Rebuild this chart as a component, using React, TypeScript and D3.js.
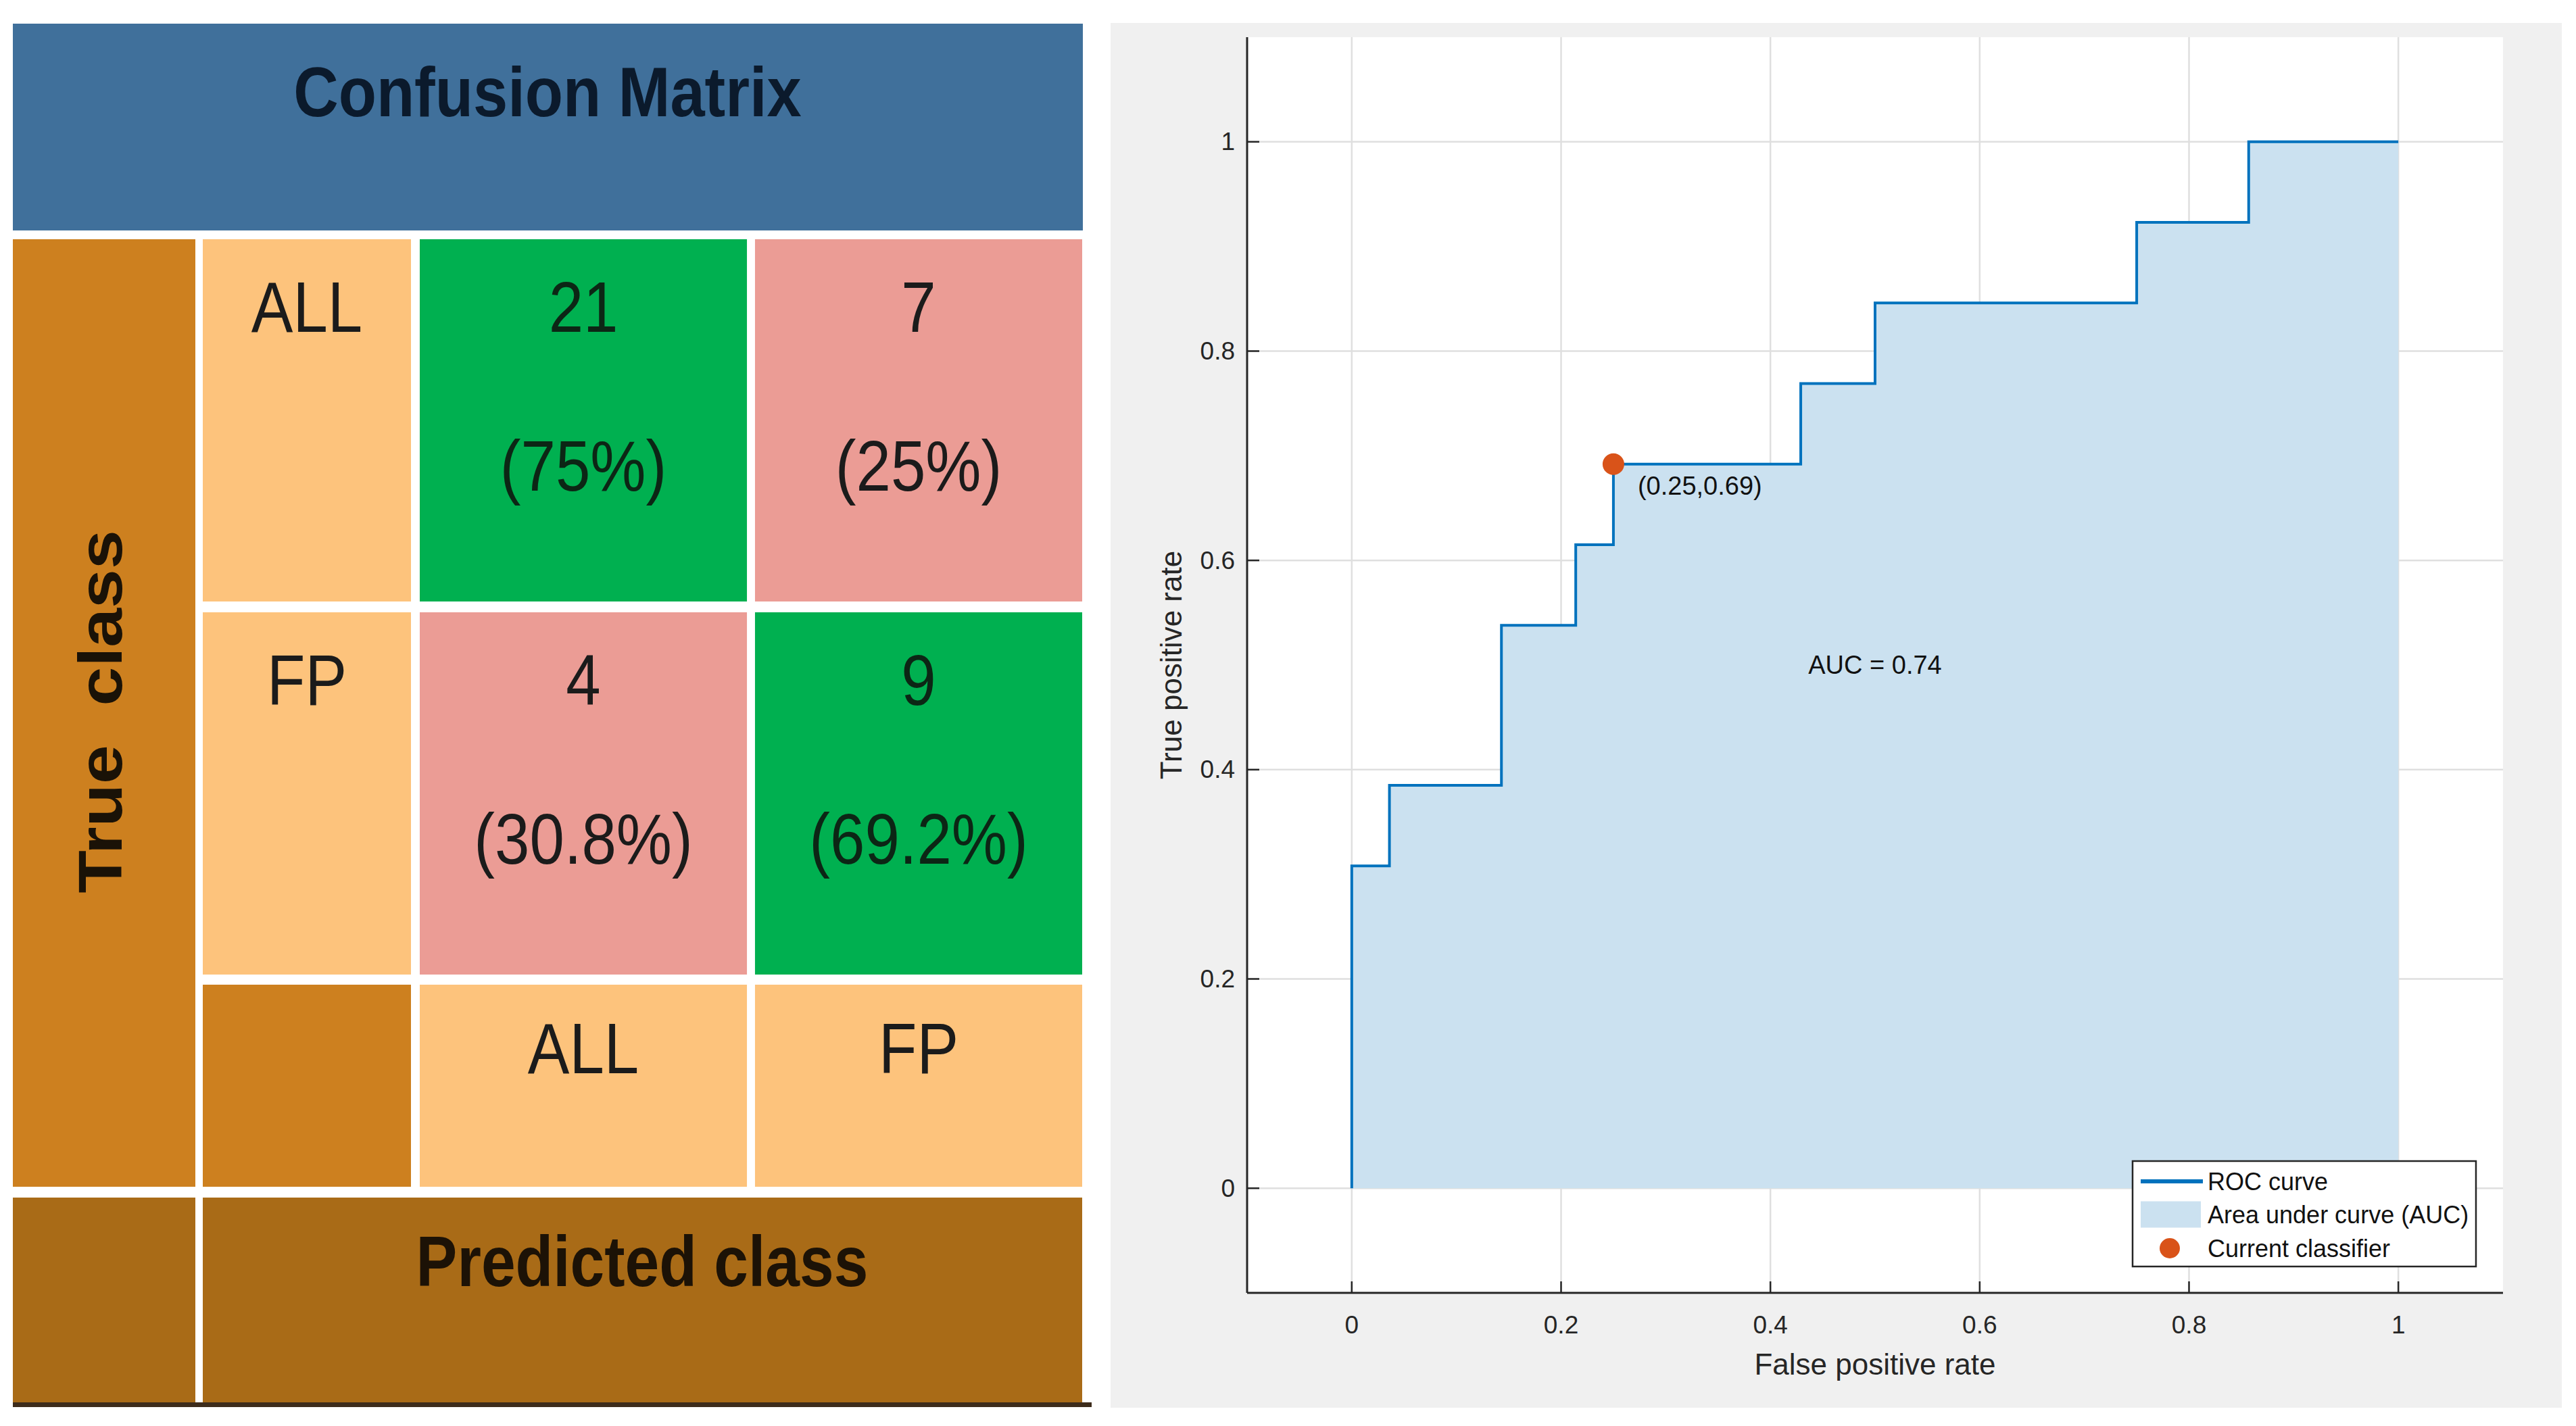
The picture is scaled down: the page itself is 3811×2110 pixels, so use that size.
import React, { useEffect } from "react";
import * as d3 from "d3";

// confusion matrix
const trueLabels = ["ALL", "FP"];
const predLabels = ["ALL", "FP"];
const counts = [
  [21, 7],
  [4, 9],
];
const rowPercents = [
  [75, 25],
  [30.8, 69.2],
];

// ROC curve (step points)
const fpr = [0, 0, 0.036, 0.143, 0.214, 0.25, 0.429, 0.5, 0.75, 0.857, 1];
const tpr = [0, 0.308, 0.385, 0.538, 0.615, 0.692, 0.769, 0.846, 0.923, 1, 1];
const currentClassifier = [0.25, 0.692];
const currentLabel = "(0.25,0.69)";
const aucValue = 0.74;
const rocTicks = [0, 0.2, 0.4, 0.6, 0.8, 1];
const legendLabels = ["ROC curve", "Area under curve (AUC)", "Current classifier"];

const W = 3811;
const H = 2110;
const FONT = "'Liberation Sans', Arial, Helvetica, sans-serif";

const C = {
  header: "#40709B",
  side: "#CD801F",
  label: "#FDC37C",
  green: "#00B050",
  pink: "#EB9C95",
  bottom: "#A96B17",
  text: "#1b1b1b",
  blue: "#0072BD",
  fill: "#CBE1F0",
  orange: "#D95319",
  axis: "#262626",
  grid: "#DFDFDF",
};

function ConfusionMatrix() {
  const cols = d3.scaleBand().domain(predLabels).range([621, 1601]).paddingInner(0.024);
  const rows = d3.scaleBand().domain(trueLabels).range([354, 1442]).paddingInner(0.029);
  const sx = 0.88;
  const fs = 105;
  const pct = (v: number) => `(${v}%)`;

  const cellText = (cx: number, baseline: number, t: string, key: string, fill = C.text) => (
    <text
      key={key}
      transform={`translate(${cx},${baseline}) scale(${sx},1)`}
      textAnchor="middle"
      fontSize={fs}
      fontFamily={FONT}
      fill={fill}
    >
      {t}
    </text>
  );

  return (
    <g>
      {/* header */}
      <rect x={19} y={35} width={1583} height={306} fill={C.header} />
      <text
        transform={`translate(810,172) scale(0.885,1)`}
        textAnchor="middle"
        fontSize={104}
        fontWeight="bold"
        fontFamily={FONT}
        fill="#0B1A2C"
      >
        Confusion Matrix
      </text>

      {/* true class column */}
      <rect x={19} y={354} width={270} height={1402} fill={C.side} />
      <text
        transform={`translate(180,1053) scale(0.88,1) rotate(-90)`}
        textAnchor="middle"
        fontSize={104}
        fontWeight="bold"
        fontFamily={FONT}
        fill="#1a1207"
        style={{ whiteSpace: "pre" }}
      >
        {"True  class"}
      </text>

      {/* row labels */}
      {trueLabels.map((r) => (
        <g key={r}>
          <rect x={300} y={rows(r)} width={308} height={rows.bandwidth()} fill={C.label} />
          {cellText(454, rows(r)! + 137, r, "rl" + r)}
        </g>
      ))}

      {/* cells */}
      {trueLabels.map((r, i) =>
        predLabels.map((c, j) => {
          const x0 = cols(c)!;
          const y0 = rows(r)!;
          const cx = x0 + cols.bandwidth() / 2;
          const diag = i === j;
          const tc = diag ? "#0c2615" : C.text;
          return (
            <g key={r + c}>
              <rect x={x0} y={y0} width={cols.bandwidth()} height={rows.bandwidth()} fill={diag ? C.green : C.pink} />
              {cellText(cx, y0 + 137, String(counts[i][j]), "n", tc)}
              {cellText(cx, y0 + 372, pct(rowPercents[i][j]), "p", tc)}
            </g>
          );
        })
      )}

      {/* predicted labels row */}
      <rect x={300} y={1457} width={308} height={299} fill={C.side} />
      {predLabels.map((c) => (
        <g key={"pl" + c}>
          <rect x={cols(c)} y={1457} width={cols.bandwidth()} height={299} fill={C.label} />
          {cellText(cols(c)! + cols.bandwidth() / 2, 1588, c, "t")}
        </g>
      ))}

      {/* predicted class band */}
      <rect x={19} y={1772} width={270} height={303} fill={C.bottom} />
      <rect x={300} y={1772} width={1301} height={303} fill={C.bottom} />
      <text
        transform={`translate(950,1903) scale(0.86,1)`}
        textAnchor="middle"
        fontSize={106}
        fontWeight="bold"
        fontFamily={FONT}
        fill="#1c1206"
      >
        Predicted class
      </text>
      <rect x={19} y={2075} width={1596} height={7} fill="#3d2c1c" />
    </g>
  );
}

function RocPlot() {
  const x = d3.scaleLinear().domain([-0.1, 1.1]).range([1845, 3703]);
  const y = d3.scaleLinear().domain([-0.1, 1.1]).range([1913, 55]);
  const pts: [number, number][] = fpr.map((f, i) => [f, tpr[i]]);

  const area = d3
    .area<[number, number]>()
    .x((d) => x(d[0]))
    .y0(y(0))
    .y1((d) => y(d[1]))
    .curve(d3.curveStepAfter);
  const line = d3
    .line<[number, number]>()
    .x((d) => x(d[0]))
    .y((d) => y(d[1]))
    .curve(d3.curveStepAfter);

  const [x0, x1] = x.range();
  const [yb, yt] = y.range();
  const fmt = d3.format("~g");
  const cx = x(currentClassifier[0]);
  const cy = y(currentClassifier[1]);

  return (
    <g fontFamily={FONT}>
      <rect x={1643} y={34} width={2147} height={2049} fill="#F0F0F0" />
      <rect x={x0} y={yt} width={x1 - x0} height={yb - yt} fill="#fff" />

      {rocTicks.map((t) => (
        <g key={"g" + t}>
          <line x1={x(t)} x2={x(t)} y1={yt} y2={yb} stroke={C.grid} strokeWidth={2.5} />
          <line x1={x0} x2={x1} y1={y(t)} y2={y(t)} stroke={C.grid} strokeWidth={2.5} />
        </g>
      ))}

      <path d={area(pts)!} fill={C.fill} />
      <path d={line(pts)!} fill="none" stroke={C.blue} strokeWidth={4} />

      {/* axes */}
      <line x1={x0} x2={x0} y1={yt} y2={yb} stroke={C.axis} strokeWidth={3} />
      <line x1={x0} x2={x1} y1={yb} y2={yb} stroke={C.axis} strokeWidth={3} />
      {rocTicks.map((t) => (
        <g key={"t" + t} fill={C.axis}>
          <line x1={x(t)} x2={x(t)} y1={yb} y2={yb - 17} stroke={C.axis} strokeWidth={2.5} />
          <line x1={x0} x2={x0 + 18} y1={y(t)} y2={y(t)} stroke={C.axis} strokeWidth={2.5} />
          <text x={x(t)} y={1973} textAnchor="middle" fontSize={37}>
            {fmt(t)}
          </text>
          <text x={1827} y={y(t)} textAnchor="end" dominantBaseline="central" fontSize={37}>
            {fmt(t)}
          </text>
        </g>
      ))}

      <text x={(x0 + x1) / 2} y={2034} textAnchor="middle" fontSize={44} fill={C.axis}>
        False positive rate
      </text>
      <text
        transform={`translate(1748,${(yt + yb) / 2}) rotate(-90)`}
        textAnchor="middle"
        fontSize={44}
        fill={C.axis}
      >
        True positive rate
      </text>

      {/* current classifier */}
      <circle cx={cx} cy={cy} r={16} fill={C.orange} />
      <text x={cx + 36} y={cy + 45} fontSize={38} fill="#111">
        {currentLabel}
      </text>

      <text x={x(0.5)} y={y(0.5)} textAnchor="middle" dominantBaseline="central" fontSize={38} fill="#111">
        {`AUC = ${aucValue}`}
      </text>

      {/* legend */}
      <g>
        <rect x={3155} y={1718} width={508} height={156} fill="#fff" stroke={C.axis} strokeWidth={2.5} />
        {legendLabels.map((l, i) => {
          const ly = 1748 + i * 49.5;
          return (
            <g key={l}>
              {i === 0 && <line x1={3167} x2={3259} y1={ly} y2={ly} stroke={C.blue} strokeWidth={6} />}
              {i === 1 && <rect x={3167} y={ly - 20} width={89} height={39} fill={C.fill} />}
              {i === 2 && <circle cx={3210} cy={ly} r={15} fill={C.orange} />}
              <text x={3266} y={ly} dominantBaseline="central" fontSize={36} fill="#111">
                {l}
              </text>
            </g>
          );
        })}
      </g>
    </g>
  );
}

export default function App() {
  useEffect(() => {
    document.body.style.margin = "0";
    document.body.style.overflow = "hidden";
  }, []);
  return (
    <svg
      width={W}
      height={H}
      viewBox={`0 0 ${W} ${H}`}
      style={{ position: "absolute", left: 0, top: 0, background: "#fff" }}
    >
      <ConfusionMatrix />
      <RocPlot />
    </svg>
  );
}
